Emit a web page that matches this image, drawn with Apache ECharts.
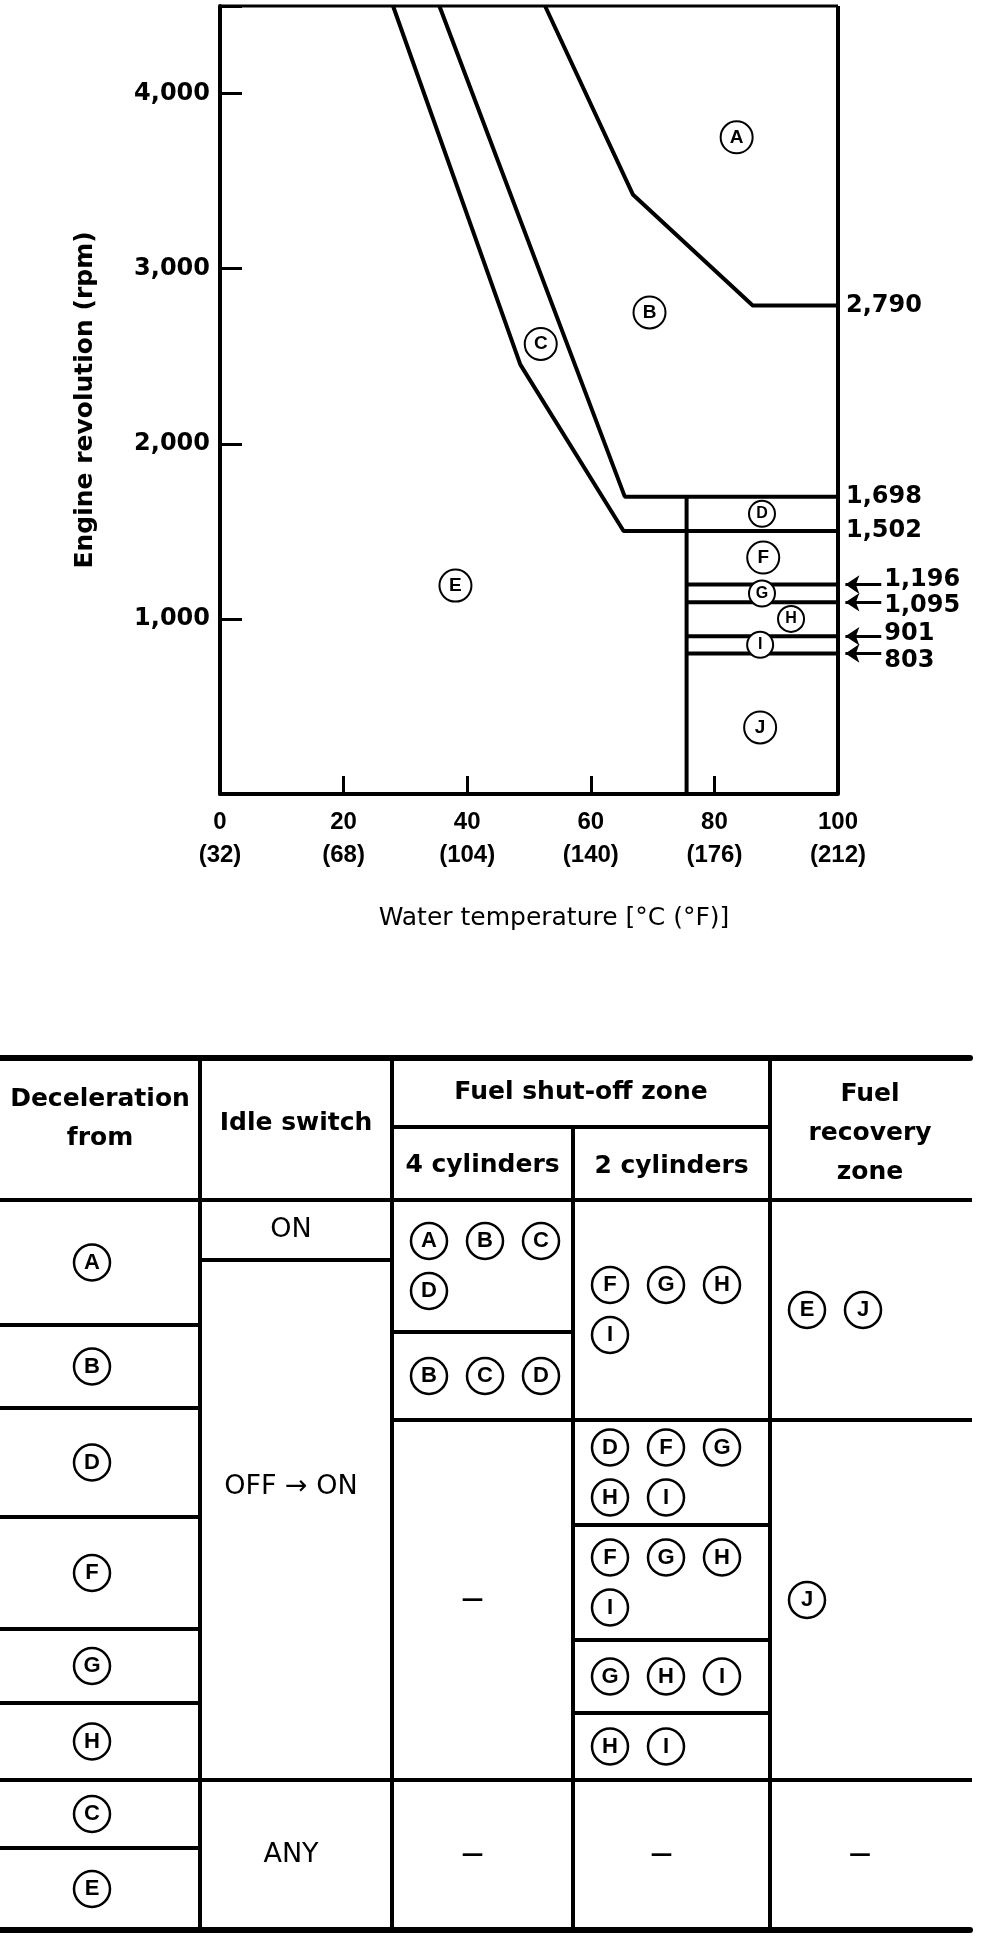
<!DOCTYPE html>
<html>
<head>
<meta charset="utf-8">
<title>Fuel shut-off zones</title>
<script src="https://cdn.jsdelivr.net/npm/echarts@6/dist/echarts.min.js"></script>
<style>
  html, body { margin: 0; padding: 0; background: #fff; }
  #chart { width: 992px; height: 1938px; }
</style>
</head>
<body>
<div id="chart"></div>
<script>
// axis ticks
var tempC = [0, 20, 40, 60, 80, 100];
var tempF = [32, 68, 104, 140, 176, 212];

// zone boundaries, [water temp C, engine rpm]
var abBoundary = [[52.6, 4500], [66.8, 3424], [86.2, 2790], [100, 2790]];
var bdBoundary = [[35.5, 4500], [65.5, 1698], [100, 1698]];
var ceBoundary = [[28, 4500], [48.6, 2452], [65.3, 1502], [100, 1502]];
var warmLimit = [[75.5, 1698], [75.5, 0]];
var cutRpm = [1196, 1095, 901, 803];

// zone markers
var zoneNames = ['A', 'B', 'C', 'D', 'E', 'F', 'G', 'H', 'I', 'J'];
var zoneTemp = [83.6, 69.5, 51.9, 87.7, 38.1, 87.9, 87.7, 92.4, 87.4, 87.4];
var zoneRpm = [3750, 2750, 2570, 1600, 1190, 1350, 1145, 1000, 852, 380];
var smallZones = ['D', 'G', 'H', 'I'];

// table contents
var headerLabels = ['Deceleration\nfrom', 'Idle switch', 'Fuel shut-off zone', '4 cylinders', '2 cylinders', 'Fuel\nrecovery\nzone'];
var decelFrom = ['A', 'B', 'D', 'F', 'G', 'H', 'C', 'E'];
var idleSwitch = ['ON', 'OFF \u2192 ON', 'ANY'];
var shutoff4 = [['A', 'B', 'C', 'D'], ['B', 'C', 'D'], '\u2014', '\u2014'];
var shutoff2 = [['F', 'G', 'H', 'I'], ['D', 'F', 'G', 'H', 'I'], ['F', 'G', 'H', 'I'], ['G', 'H', 'I'], ['H', 'I'], '\u2014'];
var recovery = [['E', 'J'], ['J'], '\u2014'];

// label nudges for the arrowed levels (px), so the numbers do not collide
var cutLabelShift = [-5, 4, -2, 7];

// table layout (page px)
var colEdges = [0, 200, 392, 573, 770, 970];
var tableTop = 1058, subHeadY = 1127, headBottom = 1200, tableBottom = 1930;
var decelEdges = [1200, 1325, 1408, 1517, 1629, 1703, 1780, 1848, 1930];
var idleEdges = [1200, 1260, 1780, 1930];
var cyl4Edges = [1200, 1332, 1420, 1780, 1930];
var cyl2Edges = [1200, 1420, 1525, 1640, 1713, 1780, 1930];
var recEdges = [1200, 1420, 1780, 1930];
var idleLabelY = [1230, 1487, 1855];
// header label: [x between column edges a..b, y]
var headerPos = [[0, 1, 1119], [1, 2, 1123], [2, 4, 1092], [2, 3, 1165], [3, 4, 1166], [4, 5, 1133]];

var FONT = '"DejaVu Sans", sans-serif';
var FONT_ARIAL = '"Liberation Sans", Arial, sans-serif';
var FONT_NARROW = '"Liberation Sans Narrow", "Liberation Sans", sans-serif';

function fmt(v) { return v.toLocaleString('en-US'); }

var chart = echarts.init(document.getElementById('chart'), null, { renderer: 'canvas' });

var series = [];

function plainLine(data, width) {
  return {
    type: 'line', xAxisIndex: 0, yAxisIndex: 0, data: data,
    symbol: 'none', showSymbol: false, silent: true, clip: false,
    lineStyle: { color: '#000', width: width || 4 }
  };
}

[abBoundary, bdBoundary, ceBoundary].forEach(function (b) {
  var s = plainLine(b, 4);
  s.endLabel = {
    show: true, distance: 8, color: '#000',
    fontFamily: FONT, fontWeight: 'bold', fontSize: 24,
    formatter: function (p) { return fmt(p.value[1]); }
  };
  series.push(s);
});
series.push(plainLine(warmLimit, 4));
cutRpm.forEach(function (v) {
  series.push(plainLine([[warmLimit[0][0], v], [100, v]], 4));
});
// frame top and right
series.push(plainLine([[0, 4500], [100, 4500]], 3));
series.push(plainLine([[100, 0], [100, 4500]], 4));

// arrows pointing at the cut levels
series.push({
  type: 'lines', coordinateSystem: 'cartesian2d', xAxisIndex: 0, yAxisIndex: 0,
  clip: false, silent: true,
  symbol: ['none', 'arrow'], symbolSize: [0, 14],
  lineStyle: { color: '#000', width: 3, opacity: 1 },
  label: {
    show: true, position: 'start', distance: 3, color: '#000',
    fontFamily: FONT, fontWeight: 'bold', fontSize: 24,
    formatter: function (p) { return fmt(p.value); }
  },
  data: cutRpm.map(function (v, i) {
    return {
      coords: [[107, v], [101.2, v]], value: v,
      label: { offset: [0, cutLabelShift[i]] }
    };
  })
});

// zone circles
series.push({
  type: 'scatter', xAxisIndex: 0, yAxisIndex: 0, z: 5, silent: true,
  symbol: 'circle',
  itemStyle: { color: '#fff', borderColor: '#000', borderWidth: 2, opacity: 1 },
  label: {
    show: true, position: 'inside', formatter: '{b}', color: '#000',
    fontFamily: FONT_ARIAL, fontWeight: 'bold'
  },
  data: zoneNames.map(function (n, i) {
    var small = smallZones.indexOf(n) >= 0;
    return {
      name: n, value: [zoneTemp[i], zoneRpm[i]],
      symbolSize: small ? 26 : 32,
      label: { fontSize: small ? 16 : 19 }
    };
  })
});

// ---- table ----
var thickRules = [
  { coords: [[0, tableTop], [colEdges[5], tableTop]] },
  { coords: [[0, tableBottom], [colEdges[5], tableBottom]] }
];
var rules = [
  { coords: [[0, headBottom], [colEdges[5], headBottom]] },
  { coords: [[colEdges[2], subHeadY], [colEdges[4], subHeadY]] },
  { coords: [[colEdges[1], tableTop], [colEdges[1], tableBottom]] },
  { coords: [[colEdges[2], tableTop], [colEdges[2], tableBottom]] },
  { coords: [[colEdges[3], subHeadY], [colEdges[3], tableBottom]] },
  { coords: [[colEdges[4], tableTop], [colEdges[4], tableBottom]] }
];
[decelEdges, idleEdges, cyl4Edges, cyl2Edges, recEdges].forEach(function (edges, c) {
  edges.slice(1, -1).forEach(function (y) {
    rules.push({ coords: [[colEdges[c], y], [colEdges[c + 1], y]] });
  });
});

var circles = [];
var texts = [];

headerLabels.forEach(function (t, i) {
  var h = headerPos[i];
  texts.push({ name: t, value: [(colEdges[h[0]] + colEdges[h[1]]) / 2, h[2]] });
});

decelFrom.forEach(function (l, i) {
  circles.push({ name: l, value: [92, (decelEdges[i] + decelEdges[i + 1]) / 2] });
});

idleSwitch.forEach(function (t, i) {
  texts.push({
    name: t, value: [(colEdges[1] + colEdges[2]) / 2 - 5, idleLabelY[i]],
    label: { fontWeight: 'normal', fontSize: 27 }
  });
});

function fillCells(contents, edges, c) {
  contents.forEach(function (cell, i) {
    var y0 = edges[i], y1 = edges[i + 1];
    var cy = (y0 + y1) / 2;
    if (typeof cell === 'string') {
      texts.push({ name: cell, value: [(colEdges[c] + colEdges[c + 1]) / 2 - 10, cy], label: { fontSize: 22 } });
      return;
    }
    var rows = Math.ceil(cell.length / 3);
    cell.forEach(function (l, k) {
      var col = k % 3, row = Math.floor(k / 3);
      circles.push({
        name: l,
        value: [colEdges[c] + 37 + col * 56, cy + (row - (rows - 1) / 2) * 50]
      });
    });
  });
}
fillCells(shutoff4, cyl4Edges, 2);
fillCells(shutoff2, cyl2Edges, 3);
fillCells(recovery, recEdges, 4);

series.push({
  type: 'lines', coordinateSystem: 'cartesian2d', xAxisIndex: 1, yAxisIndex: 1,
  silent: true, lineStyle: { color: '#000', width: 4, opacity: 1, cap: 'square' },
  data: rules
});
series.push({
  type: 'lines', coordinateSystem: 'cartesian2d', xAxisIndex: 1, yAxisIndex: 1,
  silent: true, lineStyle: { color: '#000', width: 6, opacity: 1, cap: 'round' },
  data: thickRules
});
series.push({
  type: 'scatter', xAxisIndex: 1, yAxisIndex: 1, z: 5, silent: true,
  symbol: 'circle', symbolSize: 36,
  itemStyle: { color: '#fff', borderColor: '#000', borderWidth: 2.5, opacity: 1 },
  label: {
    show: true, position: 'inside', formatter: '{b}', color: '#000',
    fontFamily: FONT_ARIAL, fontWeight: 'bold', fontSize: 22
  },
  data: circles
});
series.push({
  type: 'scatter', xAxisIndex: 1, yAxisIndex: 1, z: 6, silent: true,
  symbol: 'circle', symbolSize: 1,
  itemStyle: { color: 'rgba(0,0,0,0)', opacity: 1 },
  label: {
    show: true, position: 'inside', formatter: '{b}', color: '#000',
    fontFamily: FONT, fontWeight: 'bold', fontSize: 25, lineHeight: 39, align: 'center'
  },
  data: texts
});

var option = {
  animation: false,
  backgroundColor: '#fff',
  grid: [
    { left: 220, top: 6, width: 618, height: 788, outerBoundsMode: 'none' },
    { left: 0, top: 1040, width: 992, height: 898, outerBoundsMode: 'none' }
  ],
  xAxis: [
    {
      gridIndex: 0, type: 'value', min: 0, max: 100, interval: 20,
      axisLine: { show: true, onZero: false, lineStyle: { color: '#000', width: 4 } },
      axisTick: { show: true, inside: true, length: 18, lineStyle: { color: '#000', width: 3 } },
      splitLine: { show: false },
      axisLabel: {
        margin: 12, color: '#000', fontFamily: FONT_NARROW, fontWeight: 'bold',
        fontSize: 24, lineHeight: 33,
        formatter: function (v) {
          var i = tempC.indexOf(v);
          return i < 0 ? '' : v + '\n(' + tempF[i] + ')';
        }
      },
      name: 'Water temperature [\u00b0C (\u00b0F)]',
      nameLocation: 'middle', nameGap: 112,
      nameTextStyle: { color: '#000', fontFamily: FONT, fontSize: 25, padding: [0, 0, 0, 50] }
    },
    { gridIndex: 1, type: 'value', min: 0, max: 992, show: false }
  ],
  yAxis: [
    {
      gridIndex: 0, type: 'value', min: 0, max: 4500, interval: 1000,
      axisLine: { show: true, lineStyle: { color: '#000', width: 4 } },
      axisTick: { show: true, inside: true, length: 22, lineStyle: { color: '#000', width: 3 } },
      splitLine: { show: false },
      axisLabel: {
        margin: 10, color: '#000', fontFamily: FONT, fontWeight: 'bold', fontSize: 24,
        formatter: function (v) { return (v > 0 && v <= 4000) ? fmt(v) : ''; }
      },
      name: 'Engine revolution (rpm)',
      nameLocation: 'middle', nameRotate: 90, nameGap: 122,
      nameTextStyle: { color: '#000', fontFamily: FONT, fontWeight: 'bold', fontSize: 25 }
    },
    { gridIndex: 1, type: 'value', min: 1040, max: 1938, inverse: true, show: false }
  ],
  series: series
};

chart.setOption(option);
</script>
</body>
</html>
